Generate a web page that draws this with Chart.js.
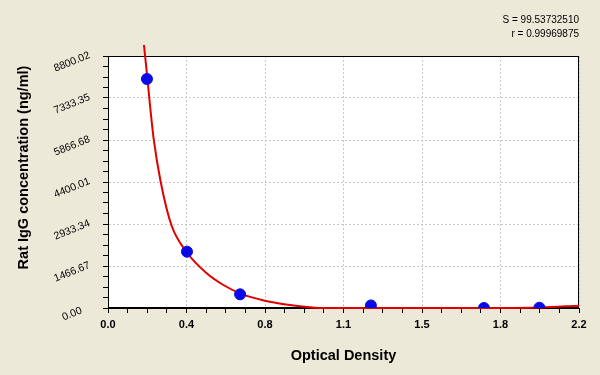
<!DOCTYPE html>
<html><head><meta charset="utf-8">
<script src="https://cdn.jsdelivr.net/npm/chart.js@4"></script>
<style>html,body{margin:0;padding:0;background:#ECE9D8;}canvas{display:block;}</style>
</head><body>
<canvas id="c" width="600" height="375"></canvas>
<script>
// Standard points (OD vs concentration)
const stdOD   = [0.182, 0.369, 0.617, 1.228, 1.756, 2.015];
const stdConc = [7997, 1966, 478, 90, 0, 10];
// Fitted curve
const curveOD   = [0.168, 0.184, 0.193, 0.214, 0.246, 0.296, 0.366, 0.461, 0.539, 0.617, 0.733, 0.850, 0.967, 1.084, 1.364, 1.831, 2.018, 2.200];
const curveConc = [9184, 8021, 7323, 5867, 4410, 2898, 1966, 1212, 803, 513, 255, 105, 12, 0, 0, 0, 17, 80];
// Axis ticks
const xTickLabels = ['0.0','0.4','0.8','1.1','1.5','1.8','2.2'];
const yTickLabels = ['0.00','1466.67','2933.34','4400.01','5866.68','7333.35','8800.02'];
const xMax = 2.2, yMax = 8800.02;
const statS = 'S = 99.53732510';
const statR = 'r = 0.99969875';
const xTitle = 'Optical Density';
const yTitle = 'Rat IgG concentration (ng/ml)';

const FONT = "'Liberation Sans', Arial, sans-serif";
const MINOR = 4;

function buildTicks(max, n){ return (axis)=>{ axis.ticks = []; for(let i=0;i<=n*MINOR;i++){ axis.ticks.push({value: i*max/(n*MINOR)}); } }; }

const frame = {
  id:'frame',
  beforeDraw(chart){
    const {ctx, chartArea:a} = chart;
    ctx.save();
    ctx.fillStyle='#ECE9D8'; ctx.fillRect(0,0,chart.width,chart.height);
    ctx.fillStyle='#FFFFFF'; ctx.fillRect(a.left,a.top,a.right-a.left,a.bottom-a.top);
    ctx.restore();
  },
  beforeDatasetsDraw(chart){
    const {ctx, chartArea:a} = chart;
    ctx.save(); ctx.strokeStyle='#000'; ctx.lineWidth=1;
    ctx.strokeRect(a.left+0.5,a.top+0.5,a.right-a.left-1,a.bottom-a.top-1);
    ctx.restore();
  }
};

const curve = curveOD.map((x,i)=>({x, y: curveConc[i]}));
const pts = stdOD.map((x,i)=>({x, y: stdConc[i]}));

new Chart(document.getElementById('c'), {
  type:'scatter',
  data:{ datasets:[
    { data: pts, backgroundColor:'#0A0AE6', borderColor:'#0A0AE6', pointRadius:5.5, pointHoverRadius:5.5, order:1 },
    { data: curve, showLine:true, borderColor:'#E00000', borderWidth:2, pointRadius:0, cubicInterpolationMode:'monotone', clip:false, order:2 }
  ]},
  options:{
    responsive:false, animation:false, devicePixelRatio:1,
    layout:{ padding:{ top:8, right:21, bottom:0, left:0 } },
    plugins:{
      legend:{display:false}, tooltip:{enabled:false},
      title:{ display:true, text:statS, align:'end', color:'#000', font:{family:FONT, size:10, weight:'normal'}, padding:{top:6,bottom:2} },
      subtitle:{ display:true, text:statR, align:'end', color:'#000', font:{family:FONT, size:10}, padding:{top:0,bottom:16} }
    },
    scales:{
      x:{ type:'linear', min:0, max:xMax,
        afterBuildTicks: buildTicks(xMax, 6),
        afterFit(a){ a.height = 67; },
        ticks:{ autoSkip:false, maxRotation:0, padding:5, color:'#000', font:{family:FONT, size:11, weight:'bold'},
          callback:(v,i)=> i%MINOR===0 ? xTickLabels[i/MINOR] : '' },
        grid:{ color:(c)=> (c.index%MINOR===0 ? '#C8C8C8' : 'rgba(0,0,0,0)'), tickColor:'#000', tickLength:5, drawTicks:true },
        border:{ display:true, color:'#000', width:1, dash:[2,2] },
        title:{ display:true, text:xTitle, color:'#000', font:{family:FONT, size:14.5, weight:'bold'}, padding:{top:0,bottom:10} }
      },
      y:{ type:'linear', min:0, max:yMax,
        afterBuildTicks: buildTicks(yMax, 6),
        afterFit(a){ a.width = 108; },
        ticks:{ autoSkip:false, minRotation:22, maxRotation:22, crossAlign:'center', padding:12, labelOffset:6, color:'#000', font:{family:FONT, size:10.5},
          callback:(v,i)=> i%MINOR===0 ? yTickLabels[i/MINOR] : '' },
        grid:{ color:(c)=> (c.index%MINOR===0 ? '#C8C8C8' : 'rgba(0,0,0,0)'), tickColor:'#000', tickLength:5, drawTicks:true },
        border:{ display:true, color:'#000', width:1, dash:[2,2] },
        title:{ display:true, text:'\u2002\u2002\u2002\u2002' + yTitle, color:'#000', font:{family:FONT, size:14.5, weight:'bold'}, padding:{top:15,bottom:0} }
      }
    }
  },
  plugins:[frame]
});
</script>
</body></html>
